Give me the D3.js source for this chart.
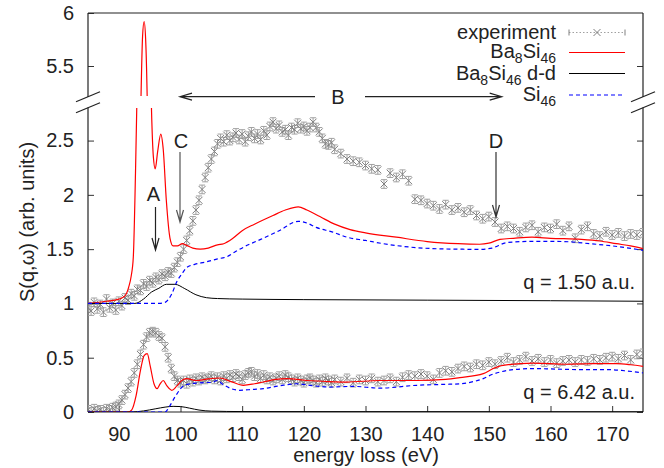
<!DOCTYPE html>
<html>
<head>
<meta charset="utf-8">
<script src="https://cdn.jsdelivr.net/npm/d3@7"></script>
<style>
  body { margin: 0; background: #fff; }
  text { font-family: "Liberation Sans", Arial, sans-serif; fill: #222; }
</style>
</head>
<body>
<svg id="chart" width="664" height="468"></svg>
<script>
// x ticks and y ticks (lower and upper part of the broken axis)
const xTicks = [90, 100, 110, 120, 130, 140, 150, 160, 170];
const yTicksLow = [0, 0.5, 1, 1.5, 2, 2.5];
const yTicksHigh = [5.5, 6];

// experiment energies (eV)
const expE = [85,85.5,86,86.5,87,87.5,88,88.5,89,89.5,90,90.5,91,91.5,92,92.5,93,93.5,94,94.5,
  95,95.5,96,96.5,97,97.5,98,98.5,99,99.5,100,100.5,101,101.5,102,102.5,103,103.5,104,104.5,
  105,105.5,106,106.5,107,107.5,108,108.5,109,109.5,110,110.5,111,111.5,112,112.5,113,113.5,114,114.5,
  115,115.5,116,116.5,117,117.5,118,118.5,119,119.5,120,120.5,121,121.5,122,122.5,123,123.5,124,124.5,
  125,126,127,128,129,130,131,132,133,134,135,136,137,138,139,140,141,142,143,144,145,
  146,147,148,149,150,151,152,153,154,155,156,157,158,159,160,161,162,163,164,165,
  166,167,168,169,170,171,172,173,174,175];

// experiment, q = 1.50 a.u. (shifted by +1)
const expQ1 = [0.97,0.93,1.01,0.95,0.99,0.92,1.04,0.96,1.00,0.94,
  1.02,0.98,1.05,1.03,1.09,1.07,1.13,1.12,1.18,1.16,
  1.21,1.19,1.24,1.22,1.27,1.25,1.29,1.28,1.33,1.38,
  1.43,1.50,1.58,1.67,1.76,1.86,1.95,2.05,2.16,2.25,
  2.33,2.40,2.47,2.52,2.49,2.55,2.50,2.53,2.57,2.51,
  2.56,2.49,2.54,2.58,2.52,2.56,2.51,2.59,2.55,2.63,
  2.67,2.61,2.64,2.58,2.60,2.55,2.62,2.60,2.66,2.61,
  2.63,2.59,2.62,2.67,2.62,2.58,2.52,2.47,2.46,2.48,
  2.42,
  2.38,2.33,2.31,2.30,2.27,2.24,2.23,2.10,2.20,2.16,
  2.19,2.13,1.96,1.95,1.92,1.90,1.87,1.91,1.86,1.88,
  1.84,1.86,1.81,1.78,1.80,1.75,1.69,1.71,1.69,1.66,
  1.70,1.72,1.66,1.70,1.69,1.73,1.67,1.71,1.60,1.68,
  1.71,1.64,1.62,1.66,1.63,1.65,1.62,1.64,1.63,1.65];

// experiment, q = 6.42 a.u.
const expQ2 = [0.02,0.00,0.03,0.01,0.02,0.00,0.03,0.02,0.04,0.05,
  0.07,0.11,0.16,0.22,0.28,0.36,0.44,0.53,0.62,0.69,
  0.73,0.74,0.73,0.70,0.68,0.60,0.50,0.40,0.33,0.29,
  0.27,0.29,0.26,0.30,0.28,0.31,0.29,0.32,0.30,0.31,
  0.33,0.30,0.32,0.29,0.33,0.31,0.34,0.32,0.35,0.33,
  0.30,0.34,0.36,0.37,0.33,0.35,0.31,0.34,0.30,0.32,
  0.29,0.31,0.33,0.30,0.34,0.32,0.30,0.28,0.31,0.29,
  0.27,0.30,0.31,0.29,0.27,0.30,0.28,0.31,0.29,0.27,
  0.30,
  0.28,0.31,0.27,0.30,0.29,0.31,0.28,0.29,0.31,0.28,
  0.32,0.34,0.33,0.35,0.33,0.30,0.36,0.38,0.37,0.40,
  0.42,0.41,0.44,0.43,0.46,0.44,0.47,0.50,0.46,0.48,
  0.51,0.47,0.49,0.46,0.48,0.45,0.47,0.48,0.46,0.48,
  0.47,0.49,0.48,0.50,0.51,0.49,0.52,0.48,0.53,0.54];
const expErr = 0.04;

// Ba8Si46, q = 1.50
const baE1 = [85,88,90,91,91.6,92,92.35,92.7,92.9,93.3,93.6,93.85,94.1,94.35,94.6,94.9,95.3,95.6,95.9,96.3,
  96.8,97.2,97.7,98.3,98.8,99.5,100.3,101,102,103.2,104.5,106,107,108.5,110,112,115,117,119.1,120.5,
  122.6,125,127.5,130,135,140,145,148.5,150,151.8,154,157,160,165,168,170.7,173,175];
const ba1 = [1.00,1.02,1.04,1.07,1.15,1.25,1.43,2.2,2.78,4.2,5.22,5.78,5.92,5.75,5.2,4.0,2.78,2.35,2.24,2.40,
  2.56,2.42,1.95,1.60,1.53,1.53,1.55,1.535,1.51,1.50,1.51,1.54,1.55,1.60,1.67,1.73,1.81,1.86,1.89,1.86,
  1.80,1.73,1.68,1.65,1.61,1.57,1.55,1.545,1.555,1.59,1.60,1.61,1.60,1.59,1.575,1.55,1.53,1.505];

// Ba8Si46 d-d, q = 1.50
const ddE1 = [85,92.6,94,95.3,96.5,97.7,99.1,100.7,102.5,104.2,106,110,120,140,160,175];
const dd1 = [1.0,1.0,1.04,1.105,1.14,1.176,1.176,1.136,1.08,1.053,1.045,1.04,1.035,1.03,1.025,1.02];

// Si46, q = 1.50
const siE1 = [85,96.5,97.5,98.6,99.4,100.2,101,102.3,104,106,107.5,109,111,113,116,119.1,120.5,122,124.7,127,
  130,132.9,137,140.9,145,148.5,150.5,152.9,157.2,162,166.4,170,175];
const si1 = [1.0,1.0,1.01,1.09,1.2,1.27,1.33,1.36,1.38,1.41,1.43,1.48,1.54,1.59,1.67,1.756,1.74,1.70,1.657,1.61,
  1.58,1.55,1.52,1.505,1.50,1.498,1.51,1.56,1.572,1.57,1.55,1.53,1.489];

// Ba8Si46, q = 6.42
const baE2 = [85,91.5,92.1,92.8,93.5,94.1,94.6,95.1,95.7,96.2,96.7,97.2,97.8,98.6,99.4,100.2,101,102.6,104.5,106.4,
  108.2,110.2,112,113.4,115.5,117.2,120.5,124,126.9,132.3,138.3,143,145.3,149.1,150.7,152.3,157.2,162.6,167,170.7,
  173,175];
const ba2 = [0,0,0.02,0.15,0.38,0.52,0.537,0.42,0.26,0.215,0.26,0.29,0.24,0.20,0.24,0.29,0.307,0.29,0.305,0.313,
  0.28,0.246,0.26,0.276,0.30,0.307,0.29,0.28,0.276,0.29,0.29,0.30,0.316,0.353,0.40,0.43,0.45,0.44,0.445,0.445,
  0.435,0.42];

// Ba8Si46 d-d, q = 6.42
const ddE2 = [85,92,94,96,97.5,98.8,100,101.5,103,105,110,130,175];
const dd2 = [0,0,0.01,0.03,0.045,0.052,0.05,0.035,0.018,0.008,0.004,0.003,0.002];

// Si46, q = 6.42
const siE2 = [85,97.5,98.2,99.1,100.4,101.5,103,105.3,105.9,107,108,109.6,111,113.4,116,118.8,121,124.2,128,132.3,
  138.3,143,145.3,147.5,149.1,150.5,151.8,154,157.2,161,165.3,169.5,172,175];
const si2 = [0,0,0.05,0.138,0.237,0.26,0.268,0.276,0.29,0.25,0.22,0.20,0.205,0.215,0.24,0.26,0.245,0.23,0.236,0.22,
  0.246,0.255,0.26,0.28,0.307,0.345,0.368,0.39,0.40,0.395,0.39,0.39,0.38,0.36];

const svg = d3.select('#chart');
const plotLeft = 88, plotRight = 643, plotTop = 13, plotBottom = 412;
const lowTop = 108, highBottom = 96;

const x = d3.scaleLinear().domain([85, 175]).range([plotLeft, plotRight]);
const yLow = d3.scaleLinear().domain([0, 2.8]).range([plotBottom, lowTop]);
const yHigh = d3.scaleLinear().domain([5.5, 6]).range([66, plotTop]);

// clip paths for the two parts of the broken axis
const defs = svg.append('defs');
defs.append('clipPath').attr('id', 'clipLow')
  .append('rect').attr('x', plotLeft).attr('y', lowTop).attr('width', plotRight - plotLeft).attr('height', plotBottom - lowTop);
defs.append('clipPath').attr('id', 'clipHigh')
  .append('rect').attr('x', plotLeft).attr('y', plotTop).attr('width', plotRight - plotLeft).attr('height', highBottom - plotTop);

// axes
const axisArea = svg.append('g').attr('class', 'axis');
axisArea.append('g').attr('transform', `translate(0,${plotBottom})`)
  .call(d3.axisBottom(x).tickValues(xTicks).tickSize(-6).tickPadding(15).tickFormat(d3.format('d')));
axisArea.append('g').attr('transform', `translate(${plotLeft},0)`)
  .call(d3.axisLeft(yLow).tickValues(yTicksLow).tickSize(-6).tickPadding(14).tickFormat(d => d));
axisArea.append('g').attr('transform', `translate(${plotLeft},0)`)
  .call(d3.axisLeft(yHigh).tickValues(yTicksHigh).tickSize(-6).tickPadding(14).tickFormat(d => d));
// mirror ticks on the right
axisArea.append('g').attr('transform', `translate(${plotRight},0)`)
  .call(d3.axisRight(yLow).tickValues(yTicksLow).tickSize(-6).tickFormat(''));
axisArea.append('g').attr('transform', `translate(${plotRight},0)`)
  .call(d3.axisRight(yHigh).tickValues([5.5]).tickSize(-6).tickFormat(''));
axisArea.selectAll('.domain').remove();
axisArea.selectAll('.tick line').attr('stroke', '#333');
axisArea.selectAll('.tick text').attr('font-size', 20).attr('fill', '#222')
  .attr('font-family', '"Liberation Sans", Arial, sans-serif');

// frame with the break
const frame = svg.append('g').attr('stroke', '#222').attr('stroke-width', 1.2).attr('fill', 'none');
frame.append('line').attr('x1', plotLeft).attr('x2', plotRight).attr('y1', plotTop).attr('y2', plotTop);
frame.append('line').attr('x1', plotLeft).attr('x2', plotRight).attr('y1', plotBottom).attr('y2', plotBottom);
[plotLeft, plotRight].forEach(xx => {
  frame.append('line').attr('x1', xx).attr('x2', xx).attr('y1', plotTop).attr('y2', 97);
  frame.append('line').attr('x1', xx).attr('x2', xx).attr('y1', 107.5).attr('y2', plotBottom);
  [96.7, 107.7].forEach(yy => {
    frame.append('line').attr('x1', xx - 12).attr('y1', yy + 5).attr('x2', xx + 12).attr('y2', yy - 5);
  });
});

// experiment points with error bars
function drawExperiment(g, vals) {
  const pts = g.selectAll('g.pt').data(expE.map((e, i) => [e, vals[i]])).join('g')
    .attr('class', 'pt')
    .attr('transform', d => `translate(${x(d[0])},${yLow(d[1])})`)
    .attr('stroke', '#808080').attr('stroke-width', 1).attr('fill', 'none');
  const eh = yLow(0) - yLow(expErr);
  pts.append('path').attr('d', `M0,${-eh}V${eh}M-3,${-eh}H3M-3,${eh}H3`).attr('stroke', '#a0a0a0');
  pts.append('path').attr('d', 'M-3.5,-3.5L3.5,3.5M-3.5,3.5L3.5,-3.5');
}

function drawCurve(g, yScale, es, vs, color, dash, width) {
  const line = d3.line().x(d => x(d[0])).y(d => yScale(d[1])).curve(d3.curveMonotoneX);
  g.append('path').datum(es.map((e, i) => [e, vs[i]]))
    .attr('d', line).attr('fill', 'none').attr('stroke', color)
    .attr('stroke-width', width).attr('stroke-dasharray', dash);
}

const low = svg.append('g').attr('clip-path', 'url(#clipLow)');
const high = svg.append('g').attr('clip-path', 'url(#clipHigh)');

drawExperiment(low.append('g'), expQ1);
drawExperiment(low.append('g'), expQ2);
drawCurve(low, yLow, baE1, ba1, '#ff0000', null, 1.2);
drawCurve(high, yHigh, baE1, ba1, '#ff0000', null, 1.2);
drawCurve(low, yLow, ddE1, dd1, '#000', null, 1);
drawCurve(low, yLow, siE1, si1, '#0000ff', '4,3', 1.2);
drawCurve(low, yLow, baE2, ba2, '#ff0000', null, 1.2);
drawCurve(low, yLow, ddE2, dd2, '#000', null, 1);
drawCurve(low, yLow, siE2, si2, '#0000ff', '4,3', 1.2);

// arrows
function arrow(x1, y1, x2, y2, color) {
  const ang = Math.atan2(y2 - y1, x2 - x1);
  const L = 12, W = 3.5;
  const bx = x2 - L * Math.cos(ang), by = y2 - L * Math.sin(ang);
  const px = -Math.sin(ang) * W, py = Math.cos(ang) * W;
  svg.append('path')
    .attr('d', `M${x1},${y1}L${x2},${y2}M${bx + px},${by + py}L${x2},${y2}L${bx - px},${by - py}`)
    .attr('fill', 'none').attr('stroke', color).attr('stroke-width', 1.2);
}
arrow(315, 96.7, 180, 96.7, '#222');
arrow(365, 96.7, 501.7, 96.7, '#222');
arrow(155.5, 207, 155.5, 250, '#222');
arrow(180, 152, 180, 222, '#555');
arrow(496, 152, 496, 217, '#333');

const ann = [['A', 153.5, 201], ['B', 338, 104], ['C', 181, 148], ['D', 496, 148]];
svg.selectAll('text.ann').data(ann).join('text').attr('class', 'ann')
  .attr('x', d => d[1]).attr('y', d => d[2]).attr('text-anchor', 'middle')
  .attr('font-size', 20).text(d => d[0]);

// q labels
svg.append('text').attr('x', 635).attr('y', 289).attr('text-anchor', 'end').attr('font-size', 20).text('q = 1.50 a.u.');
svg.append('text').attr('x', 635).attr('y', 399).attr('text-anchor', 'end').attr('font-size', 20).text('q = 6.42 a.u.');

// axis titles
svg.append('text').attr('x', 366).attr('y', 462).attr('text-anchor', 'middle').attr('font-size', 20).text('energy loss (eV)');
svg.append('text').attr('transform', 'translate(34,222) rotate(-90)').attr('text-anchor', 'middle')
  .attr('font-size', 20).text('S(q,ω) (arb. units)');

// legend
const legend = svg.append('g');
const lx1 = 569, lx2 = 625, ltx = 556;
function legendText(y, parts) {
  const t = legend.append('text').attr('x', ltx).attr('y', y).attr('text-anchor', 'end').attr('font-size', 20);
  parts.forEach(p => {
    const s = t.append('tspan').text(p[0]);
    if (p[1] === 'sub') s.attr('font-size', 14).attr('dy', 4.5);
    if (p[1] === 'up') s.attr('dy', -4.5);
  });
}
legendText(39, [['experiment']]);
legendText(58, [['Ba'], ['8', 'sub'], ['Si', 'up'], ['46', 'sub']]);
legendText(80, [['Ba'], ['8', 'sub'], ['Si', 'up'], ['46', 'sub'], [' d-d', 'up']]);
legendText(101, [['Si'], ['46', 'sub']]);

legend.append('line').attr('x1', lx1).attr('x2', lx2).attr('y1', 32.5).attr('y2', 32.5)
  .attr('stroke', '#a0a0a0').attr('stroke-dasharray', '1.5,2');
legend.append('path').attr('d', `M${lx1},29.5V35.5M${lx2},29.5V35.5M593.5,29L600.5,36M593.5,36L600.5,29`)
  .attr('stroke', '#808080').attr('fill', 'none');
legend.append('line').attr('x1', lx1).attr('x2', lx2).attr('y1', 52.5).attr('y2', 52.5).attr('stroke', '#ff0000').attr('stroke-width', 1.2);
legend.append('line').attr('x1', lx1).attr('x2', lx2).attr('y1', 73.5).attr('y2', 73.5).attr('stroke', '#000');
legend.append('line').attr('x1', lx1).attr('x2', lx2).attr('y1', 95).attr('y2', 95).attr('stroke', '#0000ff')
  .attr('stroke-width', 1.2).attr('stroke-dasharray', '4,3');
</script>
</body>
</html>
